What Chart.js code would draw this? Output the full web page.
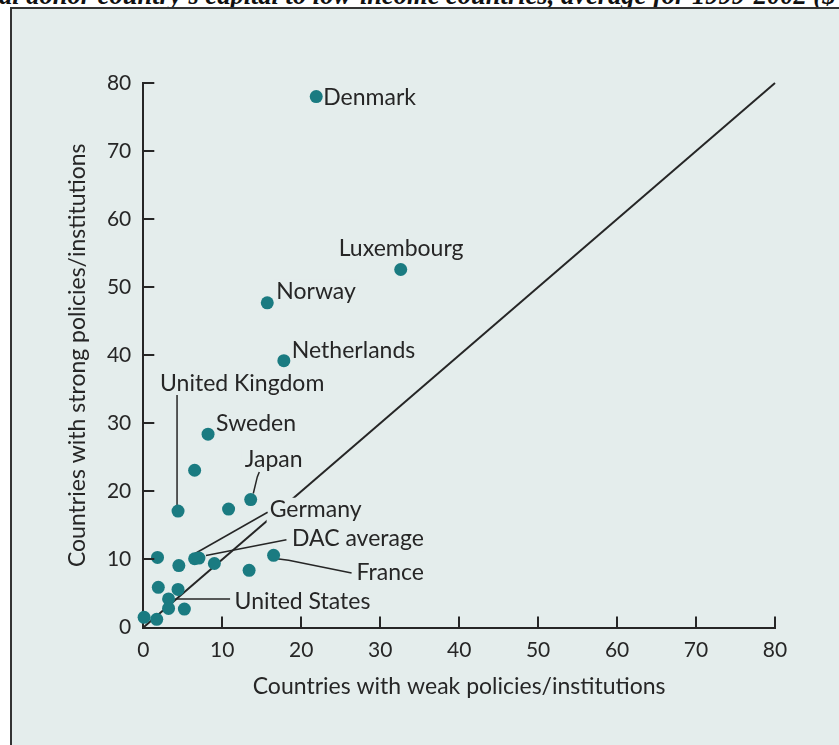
<!DOCTYPE html>
<html><head><meta charset="utf-8">
<script src="https://cdn.jsdelivr.net/npm/chart.js@4/dist/chart.umd.min.js"></script>
<style>
html,body{margin:0;padding:0;background:#fff;}
#wrap{position:relative;width:839px;height:745px;overflow:hidden;background:#fff;}
#head{position:absolute;left:-1px;top:-18px;white-space:nowrap;font:italic bold 26.5px/26.5px "Liberation Serif","Times New Roman",serif;color:#111;}
#frame{position:absolute;left:10px;top:7px;width:900px;height:800px;border-left:2px solid #333;border-top:2px solid #333;background:#e4edec;}
canvas{position:absolute;left:0;top:0;}
</style></head>
<body><div id="wrap">
<div id="head">al donor country’s capital to low-income countries, average for 1999-2002 ($</div>
<div id="frame"></div>
<canvas id="c" width="839" height="745"></canvas>
</div>
<script>
// ---- data ----
const countries = ["Denmark","Luxembourg","Norway","Netherlands","Sweden","","United Kingdom","Japan","","Germany","DAC average","","","","France","","","","United States","","","",""];
const weakPolicies = [21.9,32.6,15.7,17.8,8.2,6.5,4.4,13.6,10.8,6.5,7.05,1.8,4.5,9.0,16.5,13.4,1.9,4.4,3.2,3.2,5.2,0.1,1.7];
const strongPolicies = [78.0,52.6,47.7,39.2,28.4,23.1,17.1,18.8,17.4,10.1,10.2,10.3,9.1,9.4,10.6,8.4,5.9,5.6,4.2,2.8,2.7,1.5,1.2];
const diagonalX = [0, 80];
const diagonalY = [0, 80];
const axisMin = 0, axisMax = 80, axisStep = 10;
const xTitle = "Countries with weak policies/institutions";
const yTitle = "Countries with strong policies/institutions";

// ---- label placement (pixel offsets from the point, styling only) ----
const labelPlacement = {
  "Denmark":        {dx: 7,   dy: 8,    leader: null},
  "Luxembourg":     {dx: -62, dy: -13,  leader: null},
  "Norway":         {dx: 9,   dy: -4,   leader: null},
  "Netherlands":    {dx: 8,   dy: -3,   leader: null},
  "Sweden":         {dx: 8,   dy: -3,   leader: null},
  "United Kingdom": {dx: -18, dy: -120, leader: [[-1,-116],[-1,-6]]},
  "Japan":          {dx: -6,  dy: -33,  leader: [[8.6,-27.6],[6.6,-22.6],[2.6,-6]]},
  "Germany":        {dx: 75,  dy: -42,  leader: [[73,-46.5],[0,-5]]},
  "DAC average":    {dx: 93,  dy: -12.5,leader: [[87.5,-18.3],[7,-2.6]]},
  "France":         {dx: 83,  dy: 25,   leader: [[3.4,3.3],[15,5],[78,17.7]]},
  "United States":  {dx: 66,  dy: 9.6,  leader: [[61.5,0],[6.7,0]]}
};

const BG = '#e4edec', INK = '#262626', TEAL = '#1a7b81';
const FONT = 'Lato';

const points = weakPolicies.map((v,i)=>({x:v, y:strongPolicies[i], name:countries[i]}));
const diag = diagonalX.map((v,i)=>({x:v, y:diagonalY[i]}));

const innerTicks = {
  id:'innerTicks',
  afterDraw(chart){
    const {ctx, chartArea:a, scales:{x,y}} = chart;
    ctx.save(); ctx.strokeStyle=INK; ctx.lineWidth=2;
    x.ticks.forEach(t=>{ if(t.value===axisMin) return; const px=Math.round(x.getPixelForValue(t.value)); ctx.beginPath(); ctx.moveTo(px,a.bottom); ctx.lineTo(px,a.bottom-11); ctx.stroke();});
    y.ticks.forEach(t=>{ if(t.value===axisMin) return; const py=Math.round(y.getPixelForValue(t.value)); ctx.beginPath(); ctx.moveTo(a.left,py); ctx.lineTo(a.left+11,py); ctx.stroke();});
    ctx.restore();
  }
};

const pointLabels = {
  id:'pointLabels',
  beforeDatasetDraw(chart, args){
    if(args.index!==1) return;
    const {ctx, scales:{x,y}} = chart;
    ctx.save();
    ctx.font = '23px ' + FONT;
    ctx.textBaseline = 'alphabetic';
    ctx.textAlign = 'left';
    const items = points.filter(p=>p.name && labelPlacement[p.name]).map(p=>{
      const L = labelPlacement[p.name];
      return {p, L, px:x.getPixelForValue(p.x), py:y.getPixelForValue(p.y)};
    });
    ctx.fillStyle = BG;
    items.forEach(({p,L,px,py})=>{
      const w = ctx.measureText(p.name).width;
      ctx.fillRect(px+L.dx-3, py+L.dy-19, w+6, 25);
    });
    ctx.strokeStyle = INK; ctx.lineWidth = 1.5;
    items.forEach(({L,px,py})=>{
      if(!L.leader) return;
      ctx.beginPath();
      L.leader.forEach(([dx,dy],k)=>{ k? ctx.lineTo(px+dx,py+dy) : ctx.moveTo(px+dx,py+dy); });
      ctx.stroke();
    });
    ctx.fillStyle = INK;
    items.forEach(({p,L,px,py})=>{ ctx.fillText(p.name, px+L.dx, py+L.dy); });
    ctx.restore();
  }
};

const axisCommon = {
  type:'linear', min:axisMin, max:axisMax,
  grid:{display:false, drawTicks:false},
  border:{display:true, color:INK, width:2},
};

new Chart(document.getElementById('c'), {
  data:{ datasets:[
    {type:'line', data:diag, borderColor:INK, borderWidth:2, pointRadius:0, fill:false, order:2, clip:false},
    {type:'scatter', data:points, backgroundColor:TEAL, borderColor:TEAL, borderWidth:0, pointRadius:6.5, order:1, clip:false}
  ]},
  options:{
    responsive:false, animation:false, devicePixelRatio:1,
    layout:{padding:{left:64, right:64, top:83, bottom:45}},
    plugins:{legend:{display:false}, tooltip:{enabled:false}},
    scales:{
      x:{...axisCommon, position:'bottom',
        ticks:{stepSize:axisStep, padding:10, color:INK, font:{family:FONT, size:21}, maxRotation:0},
        title:{display:true, text:xTitle, color:INK, font:{family:FONT, size:23}, padding:{top:0,bottom:0}},
        afterFit(s){ s.height = 72.5; }
      },
      y:{...axisCommon, position:'left',
        ticks:{stepSize:axisStep, padding:12, color:INK, font:{family:FONT, size:21}},
        title:{display:true, text:yTitle, color:INK, font:{family:FONT, size:23}, padding:{top:0,bottom:0}},
        afterFit(s){ s.width = 79.3; }
      }
    }
  },
  plugins:[innerTicks, pointLabels]
});
</script>
</body></html>
